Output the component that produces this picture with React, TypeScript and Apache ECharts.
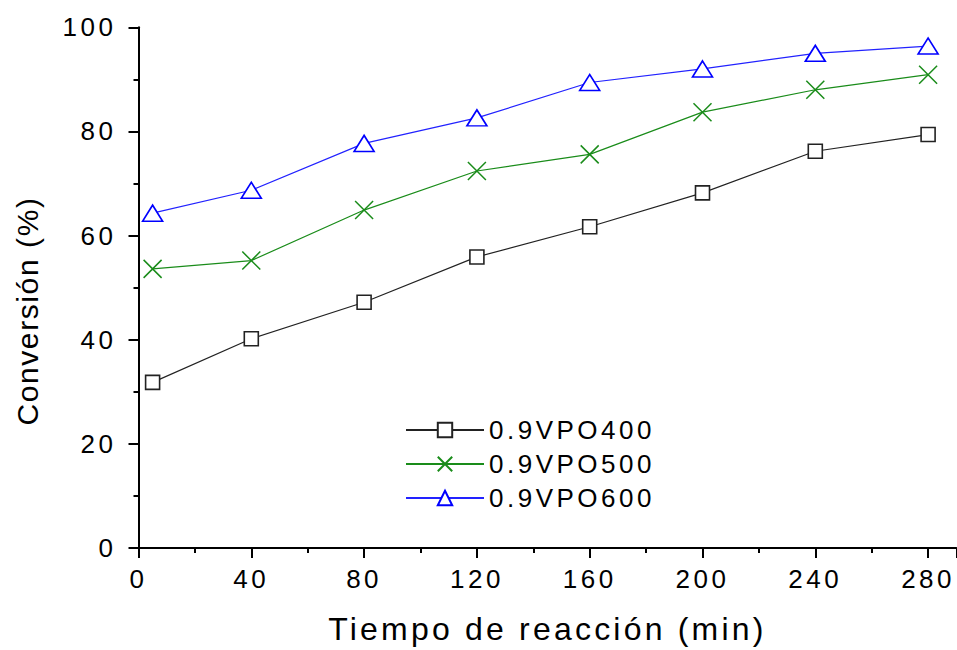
import React, { useEffect, useRef } from "react";
import * as echarts from "echarts";

const xValues = [5, 40, 80, 120, 160, 200, 240, 280];
const seriesNames = ["0.9VPO400", "0.9VPO500", "0.9VPO600"];
const vpo400 = [31.8, 40.2, 47.2, 55.9, 61.7, 68.2, 76.2, 79.4];
const vpo500 = [53.6, 55.2, 64.9, 72.4, 75.6, 83.7, 88.0, 90.9];
const vpo600 = [64.3, 68.7, 77.7, 82.6, 89.4, 92.0, 95.0, 96.4];
const xTitle = "Tiempo de reacción (min)";
const yTitle = "Conversión (%)";

const FONT = "'Liberation Sans', Arial, sans-serif";
const CROSS = "path://M0,0L10,10M10,0L0,10";

export default function App() {
  const ref = useRef<HTMLDivElement>(null);
  useEffect(() => {
    if (!ref.current) return;
    const chart = echarts.init(ref.current, null, { renderer: "svg" });
    const mk = (vals: number[]) => xValues.map((x, i) => [x, vals[i]]);
    chart.setOption({
      animation: false,
      backgroundColor: "#ffffff",
      textStyle: { fontFamily: FONT, color: "#000" },
      grid: { left: 138.5, right: 0.7, top: 27.3, bottom: 100, containLabel: false },
      graphic: [
        {
          type: "text",
          x: 27,
          y: 311,
          rotation: Math.PI / 2,
          style: {
            text: yTitle,
            fontSize: 30,
            fontFamily: FONT,
            fill: "#000",
            textAlign: "center",
            textVerticalAlign: "middle",
          },
        },
      ],
      legend: {
        data: seriesNames,
        orient: "vertical",
        left: 405,
        top: 417,
        padding: 0,
        itemWidth: 78,
        itemHeight: 18,
        itemGap: 8,
        textStyle: { fontSize: 26, color: "#000", fontFamily: FONT },
      },
      xAxis: {
        type: "value",
        min: 0,
        max: 290,
        interval: 40,
        name: xTitle,
        nameLocation: "middle",
        nameGap: 65,
        nameTextStyle: { fontSize: 32, color: "#000", fontFamily: FONT },
        axisLine: { lineStyle: { color: "#000", width: 2 } },
        axisTick: { length: 10, lineStyle: { color: "#000", width: 2 } },
        minorTick: { show: true, splitNumber: 2, length: 5, lineStyle: { color: "#000", width: 2 } },
        splitLine: { show: false },
        axisLabel: {
          fontSize: 26,
          color: "#000",
          margin: 18,
          fontFamily: FONT,
          showMaxLabel: false,
        },
      },
      yAxis: {
        type: "value",
        min: 0,
        max: 100,
        interval: 20,
        axisLine: { show: true, lineStyle: { color: "#000", width: 2 } },
        axisTick: { show: true, length: 10, lineStyle: { color: "#000", width: 2 } },
        minorTick: { show: true, splitNumber: 2, length: 5, lineStyle: { color: "#000", width: 2 } },
        splitLine: { show: false },
        axisLabel: { fontSize: 26, color: "#000", margin: 22, fontFamily: FONT },
      },
      series: [
        {
          name: seriesNames[0],
          type: "line",
          data: mk(vpo400),
          symbol: "rect",
          symbolSize: 14,
          lineStyle: { color: "#222", width: 1.2 },
          itemStyle: { color: "#fff", borderColor: "#222", borderWidth: 1.6 },
        },
        {
          name: seriesNames[1],
          type: "line",
          data: mk(vpo500),
          symbol: CROSS,
          symbolSize: 18,
          lineStyle: { color: "#1a8c1a", width: 1.2 },
          itemStyle: { color: "#1a8c1a", borderColor: "#1a8c1a", borderWidth: 1.5 },
        },
        {
          name: seriesNames[2],
          type: "line",
          data: mk(vpo600),
          symbol: "triangle",
          symbolSize: [20, 16],
          lineStyle: { color: "#2222ff", width: 1.2 },
          itemStyle: { color: "#fff", borderColor: "#0000ff", borderWidth: 1.6 },
        },
      ],
    });
    return () => chart.dispose();
  }, []);
  return (
    <>
      <style>{`
        #chartbox text { letter-spacing: 3.5px; }
        #chartbox text[style*="32px"] { letter-spacing: 3.2px; }
        #chartbox text[style*="30px"] { letter-spacing: 1.6px; }
      `}</style>
      <div
        id="chartbox"
        ref={ref}
        style={{ position: "fixed", left: 0, top: 0, width: 957, height: 650, background: "#fff" }}
      />
    </>
  );
}
